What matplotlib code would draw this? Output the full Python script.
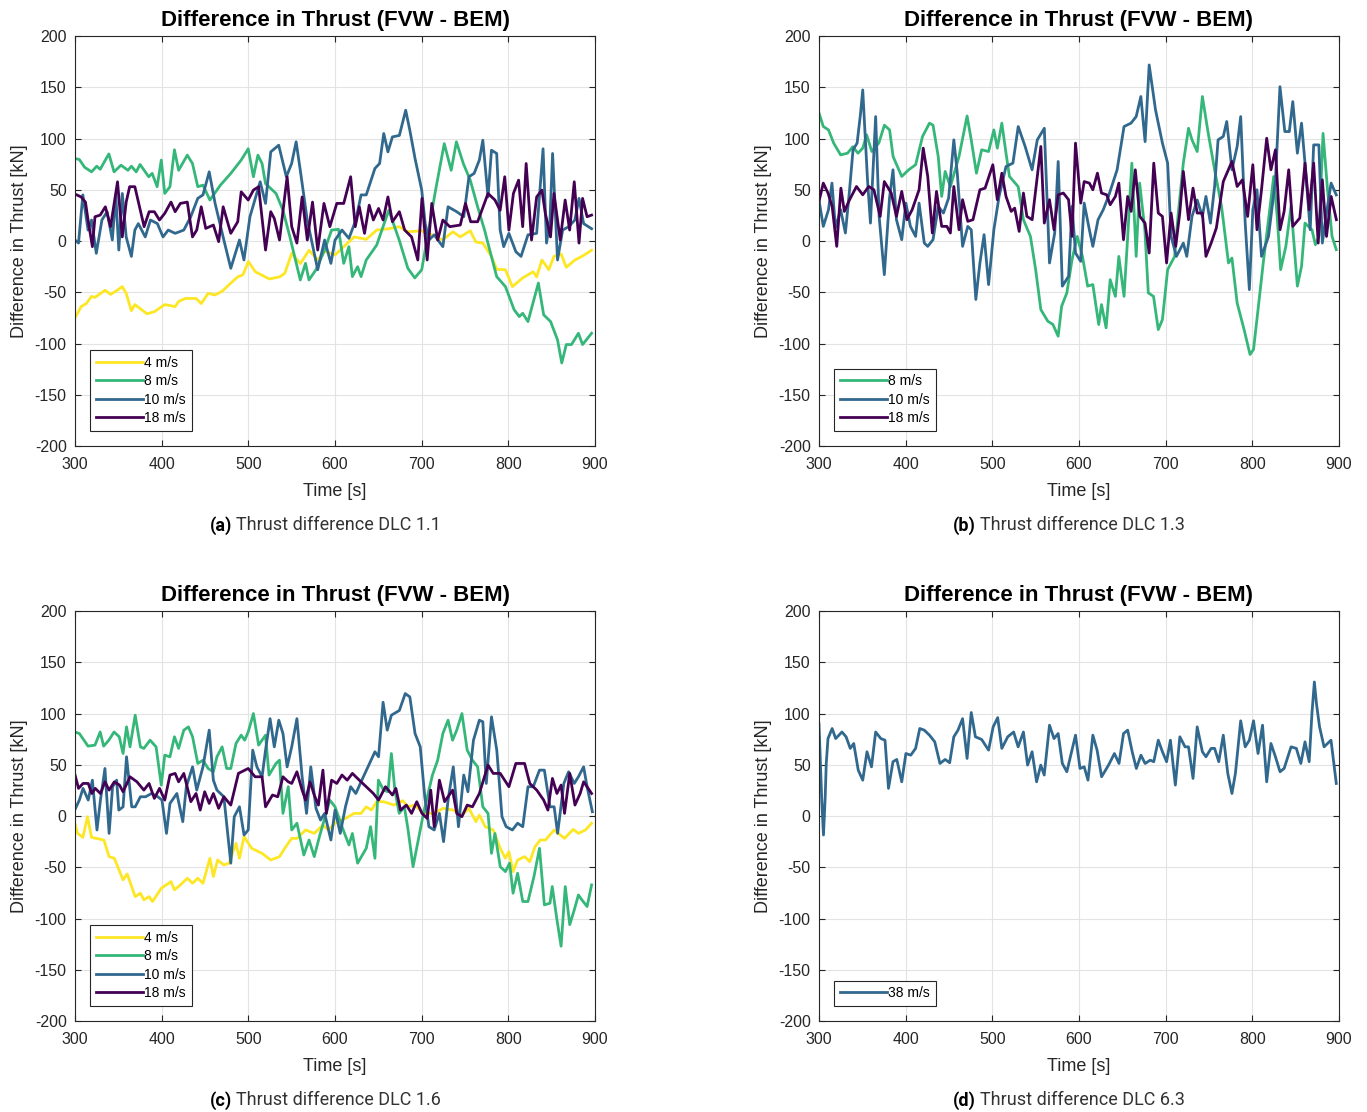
import matplotlib.pyplot as plt

plt.rcParams["font.family"] = ["Liberation Sans", "DejaVu Sans"]
plt.rcParams["axes.unicode_minus"] = False

c4 = "#fde725"
c8 = "#35b779"
c10 = "#31688e"
c18 = "#440154"

# ---- (a) DLC 1.1 ----
t_a4 = [300, 307, 313, 319, 323, 334.5, 341, 347, 354.5, 359, 365, 369, 383, 391.5, 403.5, 415.5, 419.5, 427.5,
        439.5, 445.6, 453.6, 461.6, 469.7, 479.7, 487.7, 493.7, 500, 508, 524, 536, 542, 550, 560, 570, 580, 588,
        600, 610, 622, 636, 648, 662, 674, 684, 700, 712, 724, 736, 744.5, 756, 762.5, 770.5, 780.5, 786.5, 796.6,
        804.6, 816.5, 828.6, 832.6, 838.7, 846.6, 852.6, 860.8, 866.8, 876.8, 884.8, 896]
v_a4 = [-75, -64, -61, -54, -55, -48, -52, -49, -44.5, -51, -68, -62, -71, -69, -62, -64, -59, -56,
        -56, -61, -51, -52.6, -49, -41, -35, -33, -20, -30, -37, -35, -31.5, -12, -22, -9, -18.5, -10,
        -13.6, -5.5, 4, 1.6, 10.7, 12, 14, 9, 10, 6, 1, 9, 4, 10, -1, -2, -15, -27.6, -28,
        -44.5, -36, -30, -35, -18.5, -28, -15, -12.7, -25.6, -18.5, -15, -9]

t_a8 = [300, 305, 311, 319, 325, 329, 339, 345, 353, 361, 365, 370.6, 375, 385, 389, 394.7, 399.5, 403.5, 409.5,
        414.7, 419.5, 429.5, 435.5, 441.6, 447.6, 455.6, 467.7, 479.7, 491.7, 499.8, 505.8, 511, 515.8, 519.8,
        531.9, 539.9, 547.9, 559.9, 565.9, 569.9, 578, 588, 596, 604, 610, 616, 620, 626, 630, 636, 648, 662,
        674, 684, 692, 700, 708, 716, 726, 734, 740, 748, 756, 764.5, 772.5, 782.5, 786.5, 796.6, 806.6, 812.6,
        816.5, 822.6, 834.6, 840.7, 848.7, 856.7, 861.6, 866.8, 872.8, 880.8, 885.6, 896]
v_a8 = [80.5, 79.5, 72, 67.5, 73, 70, 85, 67.5, 74, 69, 73, 67.5, 74.7, 62.7, 66, 53, 79, 46.4, 53,
        89, 69, 83.8, 75.6, 53, 54.5, 40, 54.5, 66, 79, 90, 62.7, 83.8, 75.6, 56,
        46.4, 30, 4, -38, -21.8, -38, -28, -8.8, 10.7, 11.4, -21.8, -5.5, -34.7, -25, -34.7, -18.5, -4, 30,
        1, -26.6, -36, -28, 10.7, 49.7, 95, 69, 96.8, 75.6, 59.4, 33.4, 10.7, -21.8, -34.7, -44.5, -67, -73.7,
        -70.5, -78.6, -41, -72, -78.6, -96.4, -119, -101, -101, -90, -101, -90]

t_a10 = [300, 304, 309, 315, 319, 324.5, 331, 337, 343, 347, 350.5, 354.5, 359, 365, 369, 373, 381, 387, 395,
         401.5, 407.5, 415.5, 425.5, 433.5, 441.6, 447.6, 454.8, 461.6, 471.7, 479.7, 489.7, 494.9, 501.8, 513.6,
         519.8, 525.8, 535, 543.8, 549.9, 555.1, 559.9, 567.9, 580, 588, 595.2, 600, 608, 616, 624, 630, 636,
         646, 651.4, 656.2, 661, 666.2, 674.2, 681.5, 686.3, 692.3, 700, 704, 708.3, 714.4, 724.4, 730.4, 740.4,
         748.5, 754.5, 760.5, 766.5, 770.5, 776.5, 780.5, 786.5, 790.5, 794.6, 800.6, 808.6, 814.6, 822.6, 832.6,
         840, 844, 848, 851, 856.7, 862.6, 869.5, 876.7, 881.5, 886.8, 896]
v_a10 = [1, -2, 45, 10.7, 20.5, -12, 20.5, 28.6, 1, 45, -8.8, 46.4, 4, -15, 10.7, 17, 4, 20.5, 17,
         4, 10.7, 7.5, 10.7, 23.7, 41.6, 45, 67.5, 36.7, 1, -26.6, 1, -18.5, 23.7, 57.8,
         36.7, 87, 93.5, 62.7, 75.6, 96.8, 69, 20.5, -28, 1, -21.8, 1, 10.7, 2.6, 20.5, 45, 45,
         70.8, 75.6, 104.9, 87, 101.6, 103, 127.6, 108, 80.5, 49.7, 17, 1, 6, -5.5, 33.4, 28.6,
         23.7, 62.7, 66, 79, 98.4, 43, 88.6, 85.4, 10.7, -5.5, 7.5, -10.4, -15, 6, 7.5,
         90, -2, 20.5, 85.4, -18.5, 10.7, 14, 20.5, 41.6, 17, 12]

t_a18 = [300, 307, 312, 315, 320, 323, 329, 335, 341, 349, 354.5, 359, 363, 369, 379.7, 385.5, 391.5, 397.4,
         403.5, 410.7, 415.5, 421.5, 429.5, 435.5, 440.4, 445.6, 450.8, 459.6, 465.7, 470.9, 479.7, 487.7, 491.7,
         499.8, 505.8, 511.8, 519.8, 525.8, 529.9, 535.9, 544.7, 550, 556, 562, 568, 574, 580, 587.2, 594, 602,
         610, 618, 623.3, 628, 634, 639.4, 644.2, 650.2, 655.4, 661, 666.2, 674.2, 680.3, 688.3, 695.5, 700.3,
         706.3, 711.6, 718.4, 724.4, 732.4, 744.5, 750.5, 756.5, 764.5, 776.5, 784.5, 790.5, 795.8, 800.6, 805.8,
         811.8, 816.5, 820.5, 826.7, 832.6, 838.7, 842.6, 848.6, 852.6, 859.8, 865.5, 870.7, 876, 881.5, 885.6,
         890.8, 896]
v_a18 = [45.8, 43, 38, 20.5, -5.5, 23.7, 25.3, 33.4, 14, 57.8, 4, 38, 53, 53, 14, 28.6, 28.6, 20.5,
         27, 38, 28.6, 36.7, 38, 4, 10.7, 33.4, 12.3, 15.6, -0.6, 33.4, 7.5, 18.8, 48,
         40, 49.7, 53, -8.8, 28.6, 22, 1, 62.7, 14, -2, 43, 1, 38, -8.8, 36.7, 14, 36.7,
         36.7, 62.7, 14, 33.4, 7.5, 35, 20.5, 31.8, 20.5, 43, 18.8, 28.6, 10.7, 4, -18.5, 41.6,
         -18.5, 36.7, 1, 20.5, 14, 15.6, 36.7, 18.8, 18.8, 46.4, 40, 30, 62.7, 10.7, 46.4,
         59.4, 14, 75.6, 1, 43, 49.7, 27, 4, 46.4, 1, 40, 10.7, 57.8, -2, 41.6,
         23.7, 25.3]

# ---- (b) DLC 1.3 ----
t_b8 = [300, 305, 311, 317, 325, 333, 339, 345, 350.5, 355, 361, 369, 375.5, 381.5, 385.5, 395.5, 403.5, 411.5,
        419.5, 427.5, 431.6, 437.6, 441.6, 445.6, 451.6, 461.6, 470.9, 475.7, 481.7, 487.7, 495.7, 501.8, 505.8,
        511, 515.8, 519.8, 529.9, 535.9, 544, 550, 556, 564, 570, 576, 580, 586, 592, 598, 604, 610, 616, 622.8,
        626, 631.3, 636, 642, 646, 652, 656, 661, 666, 670, 676, 680, 686, 691.5, 696.3, 702.3, 710.4, 714.4,
        720.4, 726.4, 730.4, 736.4, 742.4, 748.5, 756.5, 764.5, 772.5, 776.5, 782.5, 790.5, 797.4, 801.4, 806.6,
        812.6, 818.7, 824.7, 828.7, 832.7, 838.7, 844.7, 852, 856.8, 860.8, 868.8, 872.8, 876.8, 881.6, 886.8,
        892, 896.9]
v_b8 = [125, 111.7, 108.4, 95.5, 84, 85.7, 92, 85.7, 90.6, 103.6, 87.3, 95.5, 113, 108.4, 82.5, 63, 69.5, 74.4,
        102, 115, 113, 82.5, 43.5, 67.9, 53, 82.5, 122, 98.7, 66.2, 89, 87.3, 108.4, 90.6,
        115, 85.7, 63, 53, 20.8, 4.5, -27.9, -66.9, -78.2, -81.5, -92.9, -63.6, -50.6, -18.2, 4.5, -15, -44, -42.5, -81.5,
        -62, -84.7, -37.7, -54, -15, -54, 1.3, 76, -15, 56.5, 11, -50.6, -54, -86.4, -76.6, -27.9, -15, 25.6,
        76, 110, 98.7, 87.3, 141, 108.4, 69.5, 33.8, -21.4, -16.6, -60.4, -86.4, -110.7, -105.8, -66.9,
        -21.4, 20.8, 63, 24, -27.9, -5.2, 33.8, -44, -24.7, 17.5, 11, -3.6, 4.5, 105, 50,
        4.5, -8.4]

t_b10 = [300, 305, 311, 315, 319, 325, 330.5, 335.3, 339.3, 344, 348, 350.5, 356, 359.4, 365.4, 369.4, 375.4,
         381.4, 385.4, 389.4, 395.5, 400.3, 405.5, 411.5, 415.5, 421.5, 425.5, 431.6, 437.6, 443.6, 449.6, 455.6,
         459.6, 465.7, 471.7, 475.7, 481, 485.7, 490.5, 495.7, 501.8, 507.8, 515.8, 523.8, 529.9, 537.9, 545.9,
         551.9, 560, 566, 572, 576, 580.8, 588, 592, 596, 602, 606, 612, 616, 622, 628, 634, 644, 652, 660, 666,
         671.4, 676.3, 681, 688.3, 696.3, 702.3, 706.3, 712.4, 720.4, 724.4, 730.4, 736.4, 742.4, 746.5, 751.7,
         756.5, 760.5, 766.5, 770.5, 776.5, 782.5, 786.6, 791.8, 796.6, 800.6, 805.4, 810.6, 818.7, 826.7, 831.9,
         837.5, 842.7, 846.7, 852, 856.8, 860.8, 866.8, 870.8, 876.8, 880.8, 885, 890.9, 896.9]
v_b10 = [40, 14.3, 30.5, 56.5, 12.7, 30.5, 7.8, 50, 89, 95.5, 124.7, 147.4, 59.7, 17.5, 121.4, 24, -32.8,
         41.9, 69.5, 20.8, 1.3, 37, 14.3, 4.5, 37, -2, -5.2, 1.3, 33.8, 27.3, 41.9, 98.7,
         66.2, -5.2, 14.3, 11, -57, -21.4, 6.2, -42.5, 11, 43.5, 72.7, 76, 111.7, 92.2, 69.5,
         98.7, 110, -21.4, 7.8, 77.6, -44, -34.4, 33.8, -11.7, -19.8, 37, 11, -5.2, 20.8, 30.5, 43.5, 69.5, 111.7, 115, 121.4,
         141, 97, 171.8, 128, 95.5, 76, 4.5, -15, -2, -15, 24, 40, 24, 43.5, 17.5,
         53.2, 98.7, 102, 116.6, 69.5, 92.2, 121.4, 17.5, -47.4, 30.5, 50, -15, 4.5, 59.7, 150.6,
         106.8, 106.8, 136, 85.7, 115, 76, 11, 93.8, 93.8, -2, 24, 56.5, 45]

t_b18 = [300, 305, 310.4, 315.2, 320.5, 325.3, 329.3, 335.3, 343.3, 350.5, 357.4, 363.4, 370.6, 375.4, 383.4,
         389.4, 395.5, 401.5, 407.5, 415.5, 420.3, 425.5, 430.8, 435.6, 441.6, 447.6, 451.6, 455.6, 461.6, 465.7,
         471.7, 477.7, 485.7, 491.7, 500.6, 505.8, 511, 515.8, 521.8, 525.8, 531, 535.9, 539.9, 546, 556, 560,
         566, 571.2, 576, 582, 588, 592, 596, 602, 606, 612, 616, 621.3, 626, 632, 636, 642, 646, 651.4, 656.2,
         660.2, 665, 670.2, 676.2, 681, 686.3, 691.5, 696.3, 701.1, 706.3, 711.6, 716.3, 720.4, 726.4, 731.6,
         736.4, 742.4, 746.5, 752.5, 758.5, 766.5, 776.5, 782.5, 788.6, 794.6, 800.6, 805.4, 810.6, 816.6, 821.5,
         826.7, 832, 836.7, 842, 846.7, 854.8, 860.8, 865.6, 870.8, 876, 880.8, 885.6, 891, 897]
v_b18 = [38.6, 56.5, 46.8, 33.8, -5.2, 51.6, 28.9, 40.3, 53.2, 45.1, 53.2, 50, 24, 58, 46.8,
         24, 48.4, 20.8, 30.5, 50, 90.6, 63, 7.8, 48.4, 14.3, 14.3, 7.8, 53.2, 11, 40.3,
         19.2, 20.8, 50, 51.6, 74.4, 40.3, 66.2, 43.5, 28.9, 32.1, 9.4, 46.8, 24, 20.8, 92.2, 17.5,
         40.3, 11, 45.1, 46.8, 40.3, 4.5, 95.5, 37, 58, 56.5, 50, 66.2, 46.8, 45.1, 35.4, 43.5, 56.5, 1.3, 43.5,
         28.9, 69.5, 24, 17.5, -11.7, 76, 27.3, 24, -21.4, 27.3, -5.2, 27.3, 67.9, 20.8, 51.6,
         27.3, 27.3, -15, -2, 12.7, 58, 77.6, 53.2, 59.7, 24, 74.4, 11, 50, 100.3, 69.5,
         89, 11, 28.9, 69.5, 14.3, 22.4, 76, 30.5, 76, -2, 59.7, 4.5, 43.5, 20.8]

# ---- (c) DLC 1.6 ----
t_c4 = [300, 303, 309, 314.4, 319, 333.3, 339.3, 345.3, 355.4, 360.2, 369.4, 375.4, 379.4, 385.4, 389.4, 399.5,
        410.7, 414.7, 421.5, 429.6, 435.6, 441.6, 447.6, 455.6, 459.6, 464.5, 471.7, 477.7, 485.7, 489.7, 495,
        503.8, 515.8, 525.8, 535.9, 541.9, 549.9, 556, 566, 576, 586, 592, 602, 612, 622, 630, 636, 642, 648,
        656, 668, 678, 684, 692, 702, 714.4, 724.4, 736.4, 746.4, 754.5, 762.5, 766.5, 773.3, 782.5, 790.6,
        796.6, 800.6, 805.4, 810.6, 818.7, 824.7, 830.7, 836.7, 842.7, 852.8, 864.8, 874.8, 880.8, 888.9, 896]
v_c4 = [-7.8, -16.9, -20.8, -0.6, -20.8, -23.4, -39.6, -41.2, -62.3, -56.5, -78.6, -75.3, -81.8, -78.6, -83.4, -70.5,
        -64, -72, -67.2, -60.7, -65.6, -60.7, -65.6, -41.2, -59, -42.9, -47.7, -46, -26.6, -41.2, -20,
        -31.5, -36.4, -42.9, -39.6, -31.5, -21.8, -21.8, -13.6, -16.9, -8.8, -13.6, -5.5, -2.3, 2.6, 2.6, 9, 5.8, 14,
        14, 10.7, 15, 9, 10.7, 2.6, 2.6, 7.5, 5.8, 1, 7.5, -5.5, 1, -10.4, -13.6, -31.5,
        -41.2, -34.7, -54.2, -42.9, -39.6, -44.5, -29.9, -23.4, -23.4, -13.6, -21.8, -13, -16.9, -13.6, -7.1]

t_c8 = [300, 305, 315, 323, 329, 333, 339, 345, 351, 355.4, 359.4, 363.4, 369.4, 375.4, 379.4, 386.6, 393.5,
        399.5, 403.5, 409.5, 414.7, 419.5, 425.5, 430.8, 435.6, 441.6, 447.6, 453.6, 459.6, 463.7, 469.7, 474.9,
        479.7, 485.7, 491.7, 495.7, 499.8, 505.8, 511.8, 519.8, 523.8, 531.9, 535.9, 539.9, 546, 550, 556, 564,
        570, 576, 582, 588, 594, 600, 608, 616, 620, 626, 636, 641, 646, 650, 656, 661, 665, 669, 674, 680,
        684, 690, 696, 702, 708.3, 712.4, 718.4, 724.4, 730.4, 735.6, 740.4, 746.4, 752.5, 758.5, 764.5, 770.5,
        776.5, 780.5, 784.5, 790.6, 796.6, 801.4, 805.4, 810.6, 816.6, 822.6, 829.5, 835.9, 841.5, 848, 850.6,
        856, 860.8, 865.6, 870.8, 876, 880.8, 884.8, 890.8, 896]
v_c8 = [82, 80.5, 68.2, 69.2, 82, 68.2, 74, 82, 77.3, 61, 87, 67.5, 98.4, 67.5, 66, 74, 67.5,
        30.2, 59.4, 57.8, 77.3, 66, 83.8, 87, 77.3, 51.3, 54.5, 46.4, 43.2, 57.8, 67.5, 46.4,
        46.4, 70.8, 78.9, 74, 82, 100, 69.2, 78.9, 40, 51.3, 54.5, 2.6, 28.6, -13.6, -7, -38,
        -23.4, -39.6, -20, -2.3, 15.6, 9, -10.4, -28.2, -17, -46, -31.5, -10.4, -41.2, 35, 25.3, 23.7, 61, 25.3, 2.6, 9,
        -12, -49.4, -23.4, 2.6, 25.3, 40, 54.5, 80.5, 93.5, 74, 83.8, 100, 64.3, 54.5, 48, 9,
        2.6, -36.4, -17, -49.4, -54.2, -46, -75.3, -55.8, -83.4, -83.4, -59, -31.5, -86.7, -85, -68.8,
        -101, -127, -68.8, -106, -91.6, -77, -81.8, -88.3, -67.2]

t_c10 = [300, 305, 309.2, 315.2, 320, 325.3, 329.3, 334.5, 339.3, 343.3, 348, 350.5, 355.4, 359.4, 365.4, 369.4,
         375.4, 381.4, 388.2, 395.5, 400.3, 405.5, 409.5, 417.5, 424.3, 428.4, 435.6, 440.4, 447.6, 454.8, 459.6,
         463.7, 471.7, 479.7, 483.7, 489.7, 495, 499.8, 505, 509.8, 515.8, 519.8, 525, 529.9, 535.1, 539.9,
         544.7, 550, 556, 562, 567.1, 572, 578, 583.2, 588, 595.2, 600, 606, 612, 618, 624, 630, 638, 646,
         650.2, 655.4, 660.2, 665, 674.2, 681, 686.3, 692.3, 698.3, 703.5, 708.3, 714.4, 720.4, 725.2, 730.4,
         736.4, 742.4, 748.5, 753.3, 759.7, 766.5, 770.5, 774.5, 780.5, 786.6, 792.6, 797.4, 804.6, 810.6, 816.6,
         822.6, 828.7, 835.9, 841.5, 848, 852.8, 856.8, 864, 869.5, 876, 880.8, 886.8, 890.8, 896.9]
v_c10 = [6.5, 15.6, 27, 15.6, 35, -13.6, 15.6, 46.4, -16.9, 28.6, 35, 5.8, 9, 57.8, 9, 9,
         18.8, 18.8, 22, 18.8, 15.6, -16.9, 12.3, 22, -5.5, 28.6, 48, 25.3, 48, 83.8, 35,
         25.3, 18.8, -46, -0.6, 9, -18.5, -13.6, 64.3, 48, 38.3, 64.3, 95, 67.5, 93.5, 80.5,
         48, 67.5, 95, 38.3, 2.6, 48, 7.5, -3.9, 2.6, -23.4, 5.8, -16.9, 9, 28.6, 22, 33.4, 48, 62.7,
         57.8, 111, 83.8, 98.4, 103, 119.5, 116.2, 80.5, 67.5, 18.8, -10.4, -13.6, 2.6, -25, 15.6,
         48, -10.4, 40, 23.7, 74, 93.5, 92, 31.8, 96.8, 64.3, -0.6, -10.4, -13.6, -7, -10.4,
         28.6, 28.6, 44.8, 44.8, 9, 9, -16.9, 31.8, 43.2, 31.8, 38.3, 48, 28.6, 4.2]

t_c18 = [300, 304, 309.2, 315.2, 319.3, 323.3, 329.3, 334.5, 339.3, 345.3, 351.3, 355.4, 363.4, 371.4, 379.4,
         385.4, 391.5, 397.5, 403.5, 409.5, 415.5, 419.5, 425.5, 433.6, 439.6, 444.4, 449.6, 454.8, 459.6, 465.7,
         471.7, 479.7, 488.5, 499.8, 507.8, 515.8, 519.8, 527.8, 533.9, 539.9, 546, 550, 556, 562, 566, 571.2,
         576, 580.8, 586, 590, 596, 602, 608, 614, 620, 628, 636, 644.2, 650.2, 658.2, 666.2, 670.2, 675.5,
         682.3, 688.3, 694.3, 700.3, 706.3, 710.4, 714.4, 720.4, 726.4, 735.6, 740.4, 746.4, 752.5, 758.5, 766.5,
         776.5, 782.5, 790.6, 800.6, 808.6, 818.7, 824.7, 832.7, 840.7, 845.6, 850.8, 856, 860.8, 864.8, 870.8,
         876.8, 882.8, 886.8, 890.8, 896]
v_c18 = [40, 27, 31.8, 31.8, 22, 27, 22, 33.4, 25.3, 33.4, 30.2, 23.7, 38.3, 33.4, 25.3,
         31.8, 17.2, 27, 15.6, 40, 41.6, 33.4, 41.6, 14, 22, 5.8, 23.7, 12.3, 22, 7.5,
         18.8, 10.7, 41.6, 46.4, 38.3, 38.3, 9, 20.5, 18.8, 38.3, 33.4, 31.8, 43.2, 25.3, 15.6, 33.4,
         20.5, 10.7, 44.8, 2.6, 35, 31.8, 40, 35, 41.6, 35, 28.6, 22, 15.6, 28.6, 20.5, 27, 5.8,
         10.7, 2.6, 14, 2.6, -2.3, 25.3, -10.4, 35, 14, 25.3, 2.6, -0.6, 10.7, 9, 22,
         49.7, 41.6, 41.6, 28.6, 51.3, 51.3, 31.8, 25.3, 15.6, 5.8, 36.7, 22, 30.2, 2.6, 41.6,
         10.7, 22, 33.4, 28.6, 22]

# ---- (d) DLC 6.3 ----
t_d38 = [300, 301.2, 303.2, 305.2, 307.2, 308.4, 310.4, 315.2, 319.3, 326.5, 331.3, 336.1, 340.1, 345.3, 350.5,
         355.4, 360.6, 365.4, 371.4, 376.2, 380.2, 385.4, 389.8, 395.5, 400.3, 405.9, 411.5, 416.3, 421.5, 427.5,
         433.6, 439.6, 445.6, 450.8, 455.6, 460.4, 465.7, 470.9, 475.7, 480.5, 487.7, 495.7, 501, 506.2, 511,
         517.8, 524.6, 529.8, 535.9, 540.7, 545.9, 551.1, 555.9, 559.9, 566, 571.2, 576, 580.8, 586, 596, 601.2,
         606, 610.4, 616, 620.9, 626.1, 634.1, 640.9, 646.2, 651.4, 656.2, 661.4, 666.2, 671.5, 676.3, 682.3,
         686.3, 691.5, 696.3, 701.1, 705.5, 711.2, 716.4, 722.4, 726.4, 731.6, 736.4, 742.4, 746.5, 752.5, 756.5,
         761.3, 766.5, 771.7, 776.5, 780.5, 786.6, 791.8, 796.6, 801.4, 806.6, 811.8, 816.6, 821.5, 826.7, 832,
         836.7, 844.7, 850.8, 856, 860.8, 865.6, 868.8, 871.6, 874, 877.6, 882.8, 890.8, 896.9]
v_d38 = [90, 62.7, 15.6, -18.5, 18.8, 51.3, 75.6, 85.4, 75.6, 82, 77.3, 66, 70.8, 44.8, 35,
         62.7, 48, 82, 75.6, 74, 27, 53, 55.2, 33.4, 61, 59.4, 66, 85.4, 83.8, 78.9,
         72.4, 51.3, 55.2, 52, 77.3, 83.8, 95, 56.2, 101, 77.3, 74.7, 64.3, 87, 96, 66,
         77.3, 82, 67.5, 82, 49.7, 62.7, 33.4, 49.7, 40, 88.6, 75.6, 80.5, 51.3, 43.2, 78.9, 46.4,
         48, 35, 78.9, 64.3, 38.3, 49.7, 61, 51.3, 80.5, 83.8, 62.7, 46.4, 59.4, 51.3, 54.5,
         53, 74, 62.7, 53, 74, 30.2, 77.3, 67.5, 67.5, 36.7, 87, 62.7, 57.8, 66, 66,
         53, 78.9, 41.6, 22, 41.6, 92.9, 67.5, 74, 92.9, 61, 88.6, 33.4, 70.8, 57.8, 43.2,
         46.4, 67.5, 66, 51.3, 72.4, 53, 100, 130.8, 109.7, 87, 67.5, 74, 31.8]

panels = [
    ([0.0549, 0.5989, 0.3804, 0.3687], [(t_a4, v_a4, c4, "4 m/s"), (t_a8, v_a8, c8, "8 m/s"),
                                         (t_a10, v_a10, c10, "10 m/s"), (t_a18, v_a18, c18, "18 m/s")],
     "(a)", "Thrust difference DLC 1.1"),
    ([0.5991, 0.5989, 0.3804, 0.3687], [(t_b8, v_b8, c8, "8 m/s"), (t_b10, v_b10, c10, "10 m/s"),
                                         (t_b18, v_b18, c18, "18 m/s")],
     "(b)", "Thrust difference DLC 1.3"),
    ([0.0549, 0.0818, 0.3804, 0.3687], [(t_c4, v_c4, c4, "4 m/s"), (t_c8, v_c8, c8, "8 m/s"),
                                         (t_c10, v_c10, c10, "10 m/s"), (t_c18, v_c18, c18, "18 m/s")],
     "(c)", "Thrust difference DLC 1.6"),
    ([0.5991, 0.0818, 0.3804, 0.3687], [(t_d38, v_d38, c10, "38 m/s")],
     "(d)", "Thrust difference DLC 6.3"),
]

fig = plt.figure(figsize=(13.67, 11.12), dpi=100)

for rect, series, tag, caption in panels:
    ax = fig.add_axes(rect)
    for t, v, col, lab in series:
        ax.plot(t, v, color=col, lw=2, label=lab)
    ax.set_xlim(300, 900)
    ax.set_ylim(-200, 200)
    ax.set_xticks(range(300, 901, 100))
    ax.set_yticks(range(-200, 201, 50))
    ax.grid(True, color="#e3e3e3", lw=0.8)
    ax.set_axisbelow(True)
    ax.tick_params(direction="in", top=True, right=True, labelsize=11.5, colors="#262626", length=4)
    ax.tick_params(axis="x", pad=8)
    ax.tick_params(axis="y", pad=6)
    for s in ax.spines.values():
        s.set_color("#262626")
        s.set_linewidth(0.8)
    ax.set_title("Difference in Thrust (FVW - BEM)", fontsize=16, fontweight="bold", pad=7)
    ax.set_xlabel("Time [s]", fontsize=13, color="#262626", labelpad=8)
    ax.set_ylabel("Difference in Thrust [kN]", fontsize=13, color="#262626", labelpad=5)
    leg = ax.legend(loc="lower left", fontsize=10, handlelength=3.4, handletextpad=0.1,
                    labelspacing=0.33, borderpad=0.4, fancybox=False, framealpha=1,
                    bbox_to_anchor=(0.016, 0.02))
    leg.get_frame().set_edgecolor("#262626")
    leg.get_frame().set_linewidth(0.8)
    ax.text(0.302, -0.193, tag, transform=ax.transAxes, ha="right", va="center",
            fontsize=13, fontweight="bold", family="Roboto")
    ax.text(0.309, -0.193, caption, transform=ax.transAxes, ha="left", va="center",
            fontsize=13, family="Roboto", color="#333333")

fig.savefig("out.png", dpi=100)
